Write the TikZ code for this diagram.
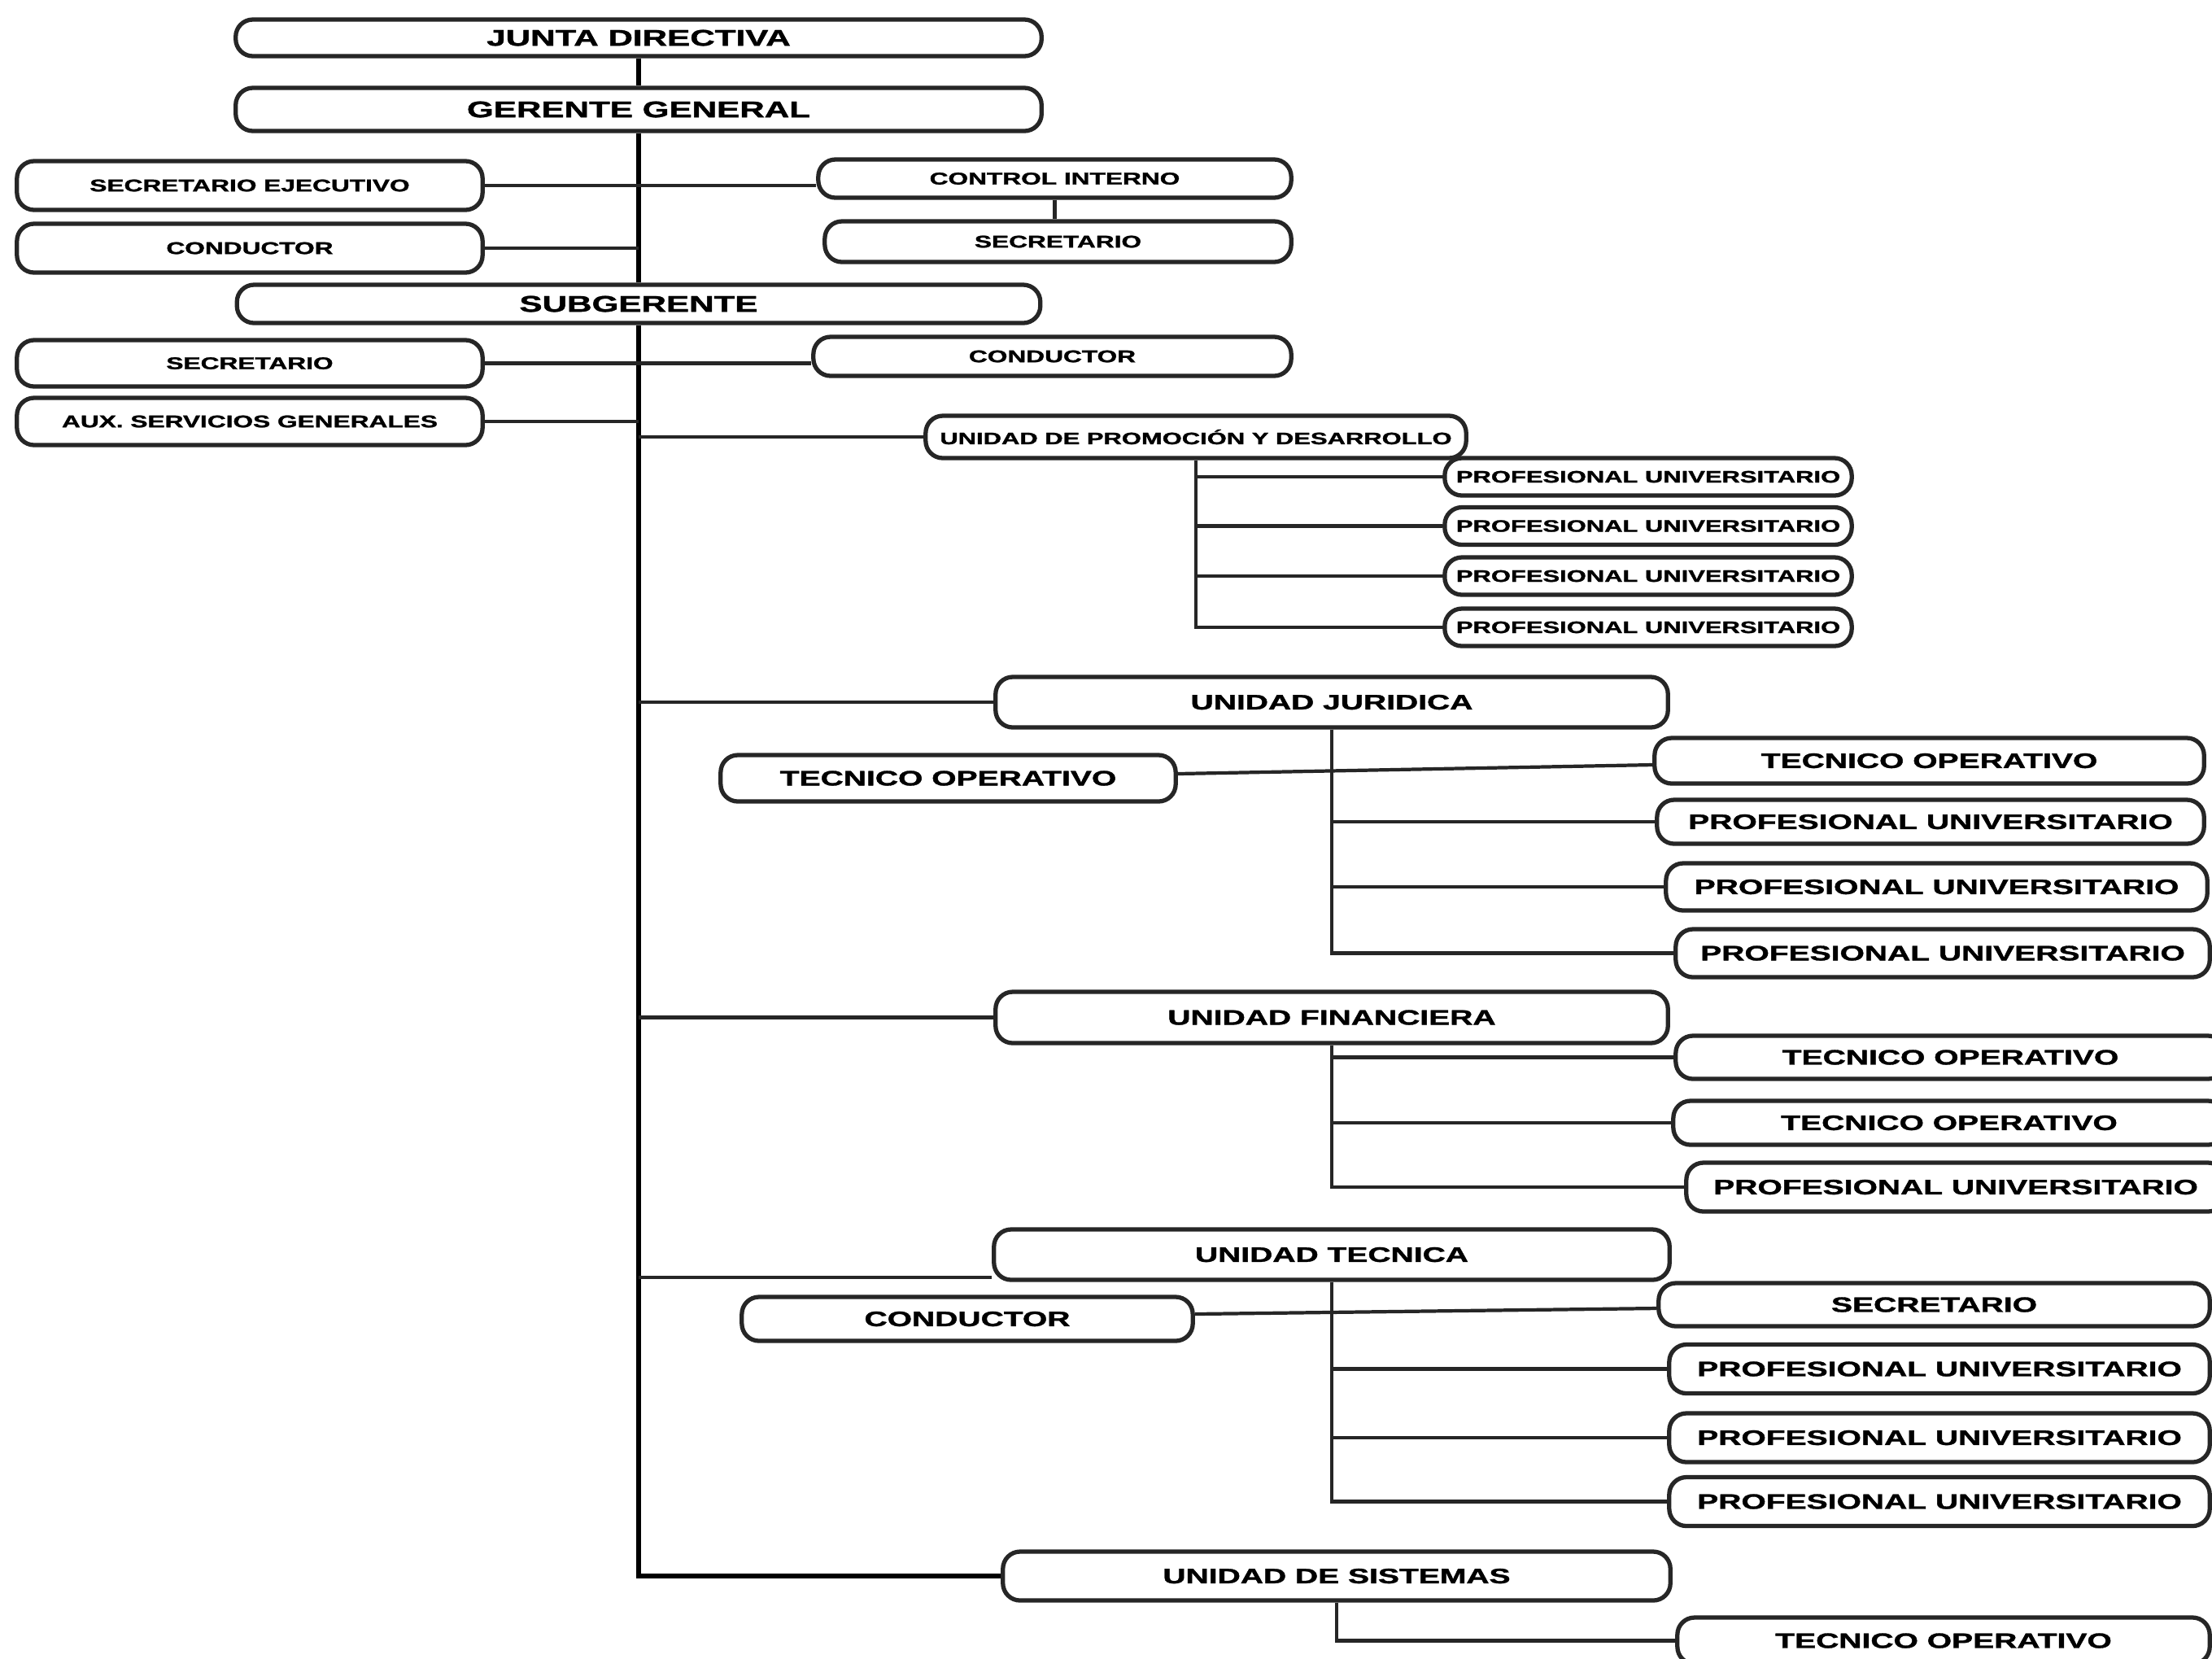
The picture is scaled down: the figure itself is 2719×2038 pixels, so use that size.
\documentclass[tikz,border=0pt]{standalone}
\usepackage{fontspec}
\setmainfont{Liberation Sans}[BoldFeatures={FakeBold=1.2}]
\usepackage{graphicx}
\newcommand{\sq}[1]{\scalebox{1}[0.66]{#1}}
\tikzset{
  box/.style={draw=black!85, line width=1.5pt, rounded corners=6pt, fill=white, inner sep=0pt, align=center},
  fbig/.style={font=\bfseries\fontsize{12}{12}\selectfont},
  fsmall/.style={font=\bfseries\fontsize{9}{9}\selectfont},
  fpu/.style={font=\bfseries\fontsize{8.8}{8.8}\selectfont},
  funit/.style={font=\bfseries\fontsize{11.1}{11.1}\selectfont},
  conn/.style={draw=black!85, line width=1.2pt},
  trunk/.style={draw=black, line width=1.6pt},
}
\begin{document}
\begin{tikzpicture}[x=0.01cm, y=-0.01cm]
\fill[white] (0,0) rectangle (2719,2038);
\useasboundingbox (0,0) rectangle (2719,2038);
\coordinate (tk) at (785,0);

% top level
\node[box,fbig,minimum width=9.9cm,minimum height=0.45cm] (jd) at (785,46.5) {\sq{JUNTA DIRECTIVA}};
\node[box,fbig,minimum width=9.9cm,minimum height=0.53cm] (gg) at (785,134.5) {\sq{GERENTE GENERAL}};
\node[box,fsmall,minimum width=5.72cm,minimum height=0.60cm] (se) at (307,228) {\sq{SECRETARIO EJECUTIVO}};
\node[box,fsmall,minimum width=5.81cm,minimum height=0.47cm] (ci) at (1296.5,219.5) {\sq{CONTROL INTERNO}};
\node[box,fsmall,minimum width=5.72cm,minimum height=0.60cm] (cl) at (307,305) {\sq{CONDUCTOR}};
\node[box,fsmall,minimum width=5.73cm,minimum height=0.50cm] (sc) at (1300.5,297) {\sq{SECRETARIO}};
\node[box,fbig,minimum width=9.87cm,minimum height=0.47cm] (sg) at (785,373.5) {\sq{SUBGERENTE}};
\node[box,fsmall,minimum width=5.72cm,minimum height=0.57cm] (sl) at (307,446.5) {\sq{SECRETARIO}};
\node[box,fsmall,minimum width=5.87cm,minimum height=0.48cm] (cr) at (1293.5,438) {\sq{CONDUCTOR}};
\node[box,fsmall,minimum width=5.72cm,minimum height=0.58cm] (ax) at (307,518) {\sq{AUX. SERVICIOS GENERALES}};

% unidad de promocion
\node[box,fpu,minimum width=6.64cm,minimum height=0.52cm] (upd) at (1470,537) {\sq{UNIDAD DE PROMOCIÓN Y DESARROLLO}};
\node[box,fpu,minimum width=5.0cm,minimum height=0.46cm] (pu1) at (2026,586) {\sq{PROFESIONAL UNIVERSITARIO}};
\node[box,fpu,minimum width=5.0cm,minimum height=0.46cm] (pu2) at (2026,646.5) {\sq{PROFESIONAL UNIVERSITARIO}};
\node[box,fpu,minimum width=5.0cm,minimum height=0.46cm] (pu3) at (2026,708) {\sq{PROFESIONAL UNIVERSITARIO}};
\node[box,fpu,minimum width=5.0cm,minimum height=0.46cm] (pu4) at (2026,771) {\sq{PROFESIONAL UNIVERSITARIO}};

% unidad juridica
\node[box,funit,minimum width=8.26cm,minimum height=0.62cm] (uj) at (1637,863) {\sq{UNIDAD JURIDICA}};
\node[box,funit,minimum width=5.59cm,minimum height=0.57cm] (tol) at (1165.5,956.5) {\sq{TECNICO OPERATIVO}};
\node[box,funit,minimum width=6.75cm,minimum height=0.56cm] (jr1) at (2371.5,935) {\sq{TECNICO OPERATIVO}};
\node[box,funit,minimum width=6.72cm,minimum height=0.54cm] (jr2) at (2373,1010) {\sq{PROFESIONAL UNIVERSITARIO}};
\node[box,funit,minimum width=6.65cm,minimum height=0.58cm] (jr3) at (2380.5,1090) {\sq{PROFESIONAL UNIVERSITARIO}};
\node[box,funit,minimum width=6.56cm,minimum height=0.59cm] (jr4) at (2388,1171.5) {\sq{PROFESIONAL UNIVERSITARIO}};

% unidad financiera
\node[box,funit,minimum width=8.26cm,minimum height=0.63cm] (uf) at (1637,1250.5) {\sq{UNIDAD FINANCIERA}};
\node[box,funit,minimum width=6.75cm,minimum height=0.53cm] (fr1) at (2397.5,1299.5) {\sq{TECNICO OPERATIVO}};
\node[box,funit,minimum width=6.78cm,minimum height=0.54cm] (fr2) at (2396,1380) {\sq{TECNICO OPERATIVO}};
\node[box,funit,minimum width=6.62cm,minimum height=0.60cm] (fr3) at (2404,1459) {\sq{PROFESIONAL UNIVERSITARIO}};

% unidad tecnica
\node[box,funit,minimum width=8.30cm,minimum height=0.62cm] (ut) at (1637,1542) {\sq{UNIDAD TECNICA}};
\node[box,funit,minimum width=5.54cm,minimum height=0.54cm] (tcl) at (1189,1621) {\sq{CONDUCTOR}};
\node[box,funit,minimum width=6.77cm,minimum height=0.53cm] (ts) at (2377.5,1603.5) {\sq{SECRETARIO}};
\node[box,funit,minimum width=6.64cm,minimum height=0.60cm] (tp1) at (2384,1682.5) {\sq{PROFESIONAL UNIVERSITARIO}};
\node[box,funit,minimum width=6.64cm,minimum height=0.60cm] (tp2) at (2384,1767) {\sq{PROFESIONAL UNIVERSITARIO}};
\node[box,funit,minimum width=6.64cm,minimum height=0.60cm] (tp3) at (2384,1845.5) {\sq{PROFESIONAL UNIVERSITARIO}};

% unidad de sistemas
\node[box,funit,minimum width=8.20cm,minimum height=0.60cm] (us) at (1643,1937) {\sq{UNIDAD DE SISTEMAS}};
\node[box,funit,minimum width=6.54cm,minimum height=0.57cm] (tb) at (2389,2016.5) {\sq{TECNICO OPERATIVO}};

% trunk
\draw[trunk] (jd.south) -- (gg.north);
\draw[trunk] (gg.south) -- (sg.north);
\draw[trunk] (sg.south) |- (us.west);

% upper connectors
\draw[conn] (se.east) -- (se.east -| ci.west);
\draw[conn] (cl.east) -- (cl.east -| tk);
\draw[conn] (ci.south) -- (ci.south |- sc.north);
\draw[conn] (sl.east) -- (sl.east -| cr.west);
\draw[conn] (ax.east) -- (ax.east -| tk);

% promocion
\draw[conn] (upd.west -| tk) -- (upd.west);
\draw[conn] (upd.south) |- (pu4.west);
\draw[conn] (upd.south |- pu1.west) -- (pu1.west);
\draw[conn] (upd.south |- pu2.west) -- (pu2.west);
\draw[conn] (upd.south |- pu3.west) -- (pu3.west);

% juridica
\draw[conn] (uj.west -| tk) -- (uj.west);
\draw[conn] (uj.south) |- (jr4.west);
\draw[conn] ([yshift=0.055cm]tol.east) -- ([yshift=-0.05cm]jr1.west);
\draw[conn] (uj.south |- jr2.west) -- (jr2.west);
\draw[conn] (uj.south |- jr3.west) -- (jr3.west);

% financiera
\draw[conn] (uf.west -| tk) -- (uf.west);
\draw[conn] (uf.south) |- (fr3.west);
\draw[conn] (uf.south |- fr1.west) -- (fr1.west);
\draw[conn] (uf.south |- fr2.west) -- (fr2.west);

% tecnica
\coordinate (utj) at ([yshift=-0.28cm]ut.west);
\draw[conn] (utj -| tk) -- (utj);
\draw[conn] (ut.south) |- (tp3.west);
\draw[conn] ([yshift=0.06cm]tcl.east) -- ([yshift=-0.045cm]ts.west);
\draw[conn] (ut.south |- tp1.west) -- (tp1.west);
\draw[conn] (ut.south |- tp2.west) -- (tp2.west);

% sistemas
\draw[conn] (us.south) |- (tb.west);
\end{tikzpicture}
\end{document}
